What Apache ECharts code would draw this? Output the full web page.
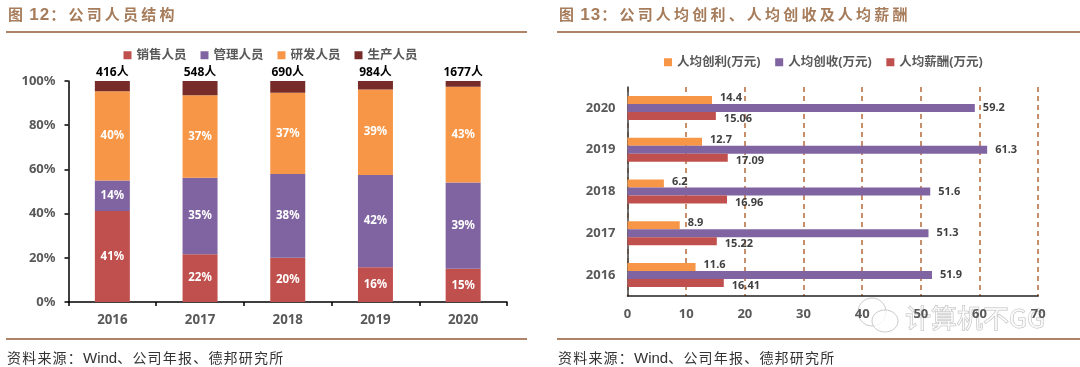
<!DOCTYPE html>
<html>
<head>
<meta charset="utf-8">
<script src="https://cdn.jsdelivr.net/npm/echarts@6/dist/echarts.min.js"></script>
<style>
  html, body { margin: 0; padding: 0; background: #fff; }
  #page { position: relative; width: 1080px; height: 367px; overflow: hidden; font-family: "Noto Sans CJK SC", sans-serif; }
  #chart { position: absolute; left: 0; top: 0; width: 1080px; height: 367px; }
  .head { position: absolute; top: 2px; font-size: 15px; line-height: 24px; font-weight: 700; color: #a67c5b; letter-spacing: 3.2px; word-spacing: -3.5px; white-space: nowrap; }
  .head span { font-family: "Liberation Sans", sans-serif; font-size: 17px; letter-spacing: 1px; }
  .rule { position: absolute; height: 2px; background: #ad8467; }
  .foot { position: absolute; top: 347px; font-size: 14px; line-height: 20px; color: #333; letter-spacing: 1.2px; white-space: nowrap; }
  .foot span { font-family: "Liberation Sans", sans-serif; font-size: 15px; letter-spacing: 0; }
</style>
</head>
<body>
<div id="page">
  <div id="chart"></div>
  <div class="head" style="left:8px">图 <span>12</span>：公司人员结构</div>
  <div class="head" style="left:559px">图 <span>13</span>：公司人均创利、人均创收及人均薪酬</div>
  <div class="rule" style="left:6px;width:521px;top:31px"></div>
  <div class="rule" style="left:557px;width:523px;top:31px"></div>
  <div class="rule" style="left:6px;width:521px;top:338px"></div>
  <div class="rule" style="left:557px;width:523px;top:338px"></div>
  <div class="foot" style="left:7px">资料来源：<span>Wind</span>、公司年报、德邦研究所</div>
  <div class="foot" style="left:558px">资料来源：<span>Wind</span>、公司年报、德邦研究所</div>
</div>
<script>
  // 图12 人员结构
  const years = ['2016', '2017', '2018', '2019', '2020']
  const headcount = ['416人', '548人', '690人', '984人', '1677人']
  const sales = [41.2, 21.6, 20.0, 15.7, 15.0]
  const management = [13.8, 34.6, 37.9, 41.8, 39.1]
  const research = [40.4, 37.4, 36.8, 38.7, 43.3]
  const production = [4.6, 6.4, 5.3, 3.8, 2.6]
  const percentTicks = [0, 20, 40, 60, 80, 100]

  // 图13 人均数据
  const profitPerHead = [11.6, 8.9, 6.2, 12.7, 14.4]
  const revenuePerHead = [51.9, 51.3, 51.6, 61.3, 59.2]
  const payPerHead = ['16.41', '15.22', '16.96', '17.09', '15.06']

  const RED = '#c0504d'
  const PURPLE = '#8064a2'
  const ORANGE = '#f79646'
  const DARK = '#772c2a'
  const GREY = '#595959'
  const FONT = '"Noto Sans", "Noto Sans CJK SC", sans-serif'

  const chart = echarts.init(document.getElementById('chart'))

  function stackSeries(name, data, color) {
    return {
      name, type: 'bar', stack: 'staff', data, barWidth: 35,
      xAxisIndex: 0, yAxisIndex: 0,
      itemStyle: { color },
      label: {
        show: true, position: 'inside', color: '#fff',
        fontFamily: FONT, fontSize: 11.5, fontWeight: 'bold',
        formatter: p => Math.round(p.value) + '%'
      }
    }
  }

  function hbarSeries(name, data, color, labelDy) {
    return {
      name, type: 'bar', data, barWidth: 8, barGap: 0,
      xAxisIndex: 1, yAxisIndex: 1,
      itemStyle: { color },
      z: 3,
      label: {
        show: true, position: 'right', distance: 8, offset: [0, labelDy], color: '#404040',
        fontFamily: FONT, fontSize: 11, fontWeight: 'bold',
        formatter: p => data[p.dataIndex]
      }
    }
  }

  chart.setOption({
    animation: false,
    textStyle: { fontFamily: FONT },
    legend: [
      {
        left: 118.5, top: 44, itemWidth: 8, itemHeight: 8, itemGap: 14,
        icon: 'rect',
        textStyle: { color: GREY, fontSize: 12.5, fontWeight: 'bold', fontFamily: FONT },
        data: ['销售人员', '管理人员', '研发人员', '生产人员']
      },
      {
        left: 659, top: 51, itemWidth: 8, itemHeight: 8, itemGap: 14.7,
        icon: 'rect',
        textStyle: { color: GREY, fontSize: 12.5, fontWeight: 'bold', fontFamily: FONT },
        data: ['人均创利(万元)', '人均创收(万元)', '人均薪酬(万元)']
      }
    ],
    grid: [
      { left: 68.5, top: 81, width: 438.5, height: 221 },
      { left: 627.5, top: 87, width: 410.7, height: 209 }
    ],
    xAxis: [
      {
        gridIndex: 0, type: 'category', data: years,
        axisLine: { lineStyle: { color: '#000', width: 1.5 } },
        axisTick: { show: true, length: 4, lineStyle: { color: '#000', width: 1.5 } },
        axisLabel: { color: GREY, fontSize: 13.3, fontWeight: 'bold', fontFamily: FONT, margin: 12 }
      },
      {
        gridIndex: 1, type: 'value', min: 0, max: 70, interval: 10,
        axisLine: { show: true, lineStyle: { color: '#222', width: 1.5 } },
        axisTick: { show: false },
        axisLabel: { color: GREY, fontSize: 13, fontWeight: 'bold', fontFamily: FONT, margin: 12 },
        splitLine: { show: true, lineStyle: { color: '#b5693b', width: 1.5, type: [5, 4] } }
      }
    ],
    yAxis: [
      {
        gridIndex: 0, type: 'value', min: 0, max: 100, interval: 20,
        axisLine: { show: true, lineStyle: { color: '#000', width: 1.5 } },
        axisTick: { show: true, length: 4, lineStyle: { color: '#000', width: 1.5 } },
        axisLabel: {
          color: GREY, fontSize: 13, fontWeight: 'bold', fontFamily: FONT, margin: 13,
          formatter: v => percentTicks[v / 20] + '%'
        },
        splitLine: { show: false }
      },
      {
        gridIndex: 1, type: 'category', data: years,
        axisLine: { lineStyle: { color: '#404040', width: 1.5 } },
        axisTick: { show: false },
        axisLabel: { color: GREY, fontSize: 13, fontWeight: 'bold', fontFamily: FONT, margin: 12 }
      }
    ],
    series: [
      stackSeries('销售人员', sales, RED),
      stackSeries('管理人员', management, PURPLE),
      stackSeries('研发人员', research, ORANGE),
      {
        name: '生产人员', type: 'bar', stack: 'staff', data: production, barWidth: 35,
        xAxisIndex: 0, yAxisIndex: 0,
        itemStyle: { color: DARK },
        label: {
          show: true, position: 'top', distance: 2, color: '#000',
          fontFamily: FONT, fontSize: 12, fontWeight: 'bold',
          formatter: p => headcount[p.dataIndex]
        }
      },
      // 创利在每组最上，薪酬在最下
      hbarSeries('人均创利(万元)', profitPerHead, ORANGE, -2),
      hbarSeries('人均创收(万元)', revenuePerHead, PURPLE, 0),
      hbarSeries('人均薪酬(万元)', payPerHead.map(Number), RED, 3)
    ],
    graphic: [
      // 水印
      {
        type: 'group', z: 100, silent: true,
        children: [
          { type: 'ellipse', shape: { cx: 872, cy: 312, rx: 14, ry: 14 }, style: { fill: 'rgba(255,255,255,0.6)', stroke: '#c9c9c9', lineWidth: 1 } },
          { type: 'ellipse', shape: { cx: 885, cy: 321, rx: 13, ry: 11 }, style: { fill: 'rgba(255,255,255,0.8)', stroke: '#c9c9c9', lineWidth: 1 } },
          {
            type: 'text', x: 905, y: 305,
            style: {
              text: '计算机不GG', fill: 'rgba(255,255,255,0.7)', stroke: '#bdbdbd', lineWidth: 1,
              font: '26px "Noto Sans CJK SC", sans-serif'
            }
          }
        ]
      }
    ]
  })
</script>
</body>
</html>
